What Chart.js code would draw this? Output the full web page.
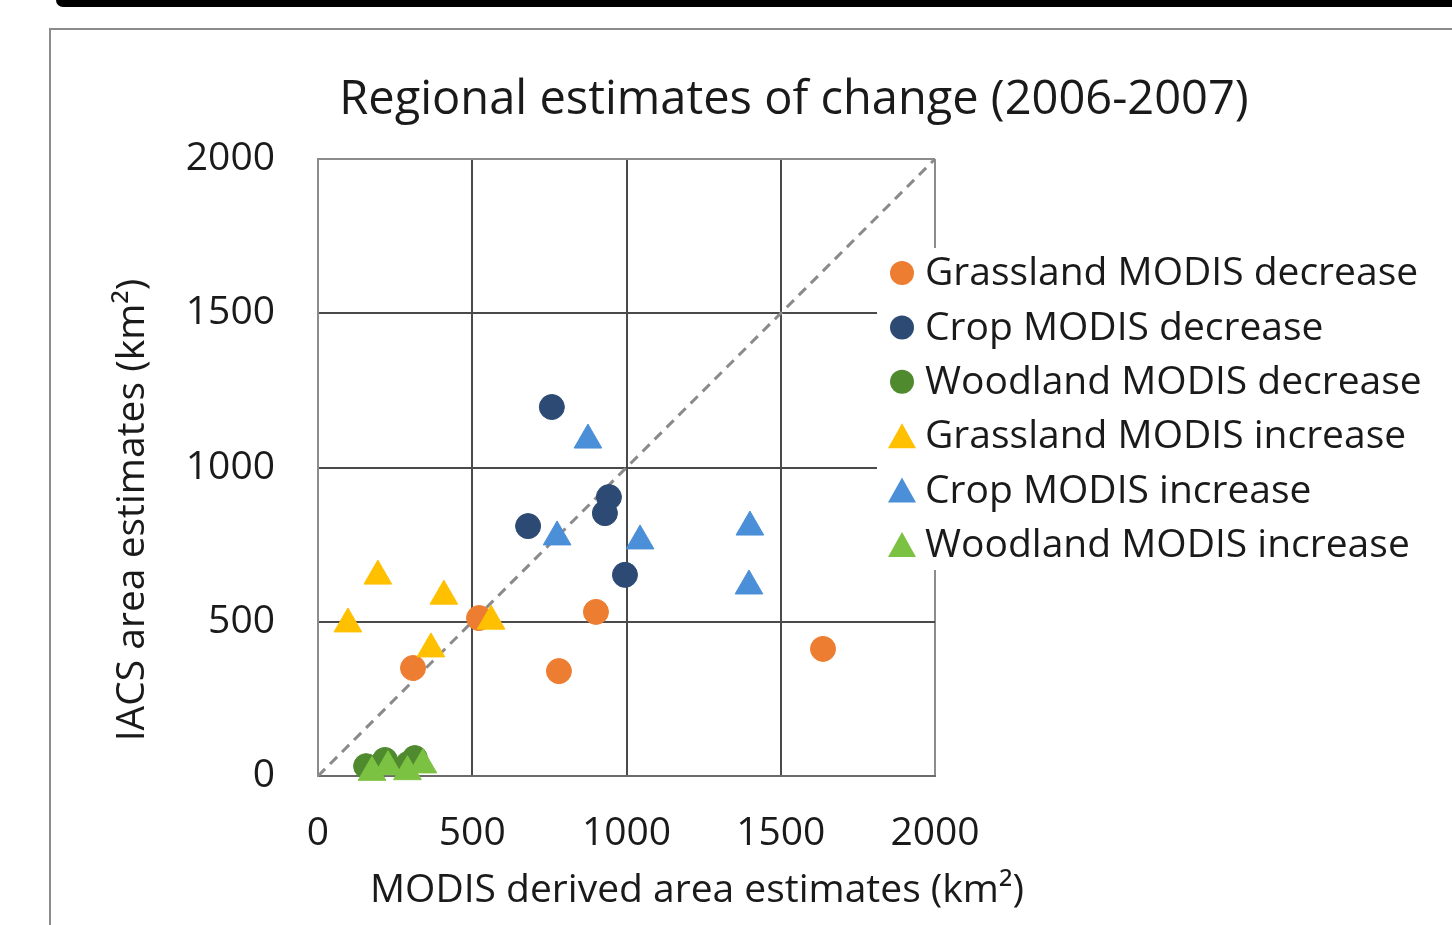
<!DOCTYPE html>
<html>
<head>
<meta charset="utf-8">
<script src="https://cdn.jsdelivr.net/npm/chart.js@4.4.1/dist/chart.umd.min.js"></script>
<style>
    html, body { margin: 0; padding: 0; background: #fff; }
    body { width: 1452px; height: 925px; position: relative; overflow: hidden; }
    #topbar { position: absolute; left: 56px; top: 0; width: 1400px; height: 7px; background: #000; border-bottom-left-radius: 10px; }
    #frame { position: absolute; left: 49px; top: 28px; width: 1410px; height: 910px; border-left: 2px solid #8c8c8c; border-top: 2px solid #8c8c8c; }
    #chart { position: absolute; left: 0; top: 0; }
</style>
</head>
<body>
<div id="topbar"></div>
<div id="frame"></div>
<canvas id="chart" width="1452" height="925"></canvas>
<script>
var chartTitle = 'Regional estimates of change (2006-2007)';
var xTitle = 'MODIS derived area estimates (km²)';
var yTitle = 'IACS area estimates (km²)';
var axisTicks = [0, 500, 1000, 1500, 2000];

var seriesNames = [
    'Grassland MODIS decrease',
    'Crop MODIS decrease',
    'Woodland MODIS decrease',
    'Grassland MODIS increase',
    'Crop MODIS increase',
    'Woodland MODIS increase'
];

// MODIS (x) and IACS (y) estimates, km2
var grassDecX = [308, 522, 901, 781, 1637];
var grassDecY = [350, 512, 532, 340, 412];
var cropDecX = [758, 943, 930, 681, 995];
var cropDecY = [1196, 904, 852, 810, 652];
var woodDecX = [156, 217, 292, 314];
var woodDecY = [32, 52, 39, 58];
var grassIncX = [97, 194, 408, 366, 561];
var grassIncY = [493, 648, 583, 412, 502];
var cropIncX = [875, 775, 1044, 1400, 1397];
var cropIncY = [1089, 775, 762, 807, 616];
var woodIncX = [175, 227, 290, 340];
var woodIncY = [12, 30, 14, 36];
var diagonal = [0, 2000];

var colors = ['#ed7d31', '#2c4a73', '#4f8a2f', '#ffc000', '#4a8fd8', '#7cc242'];
var shapes = ['circle', 'circle', 'circle', 'triangle', 'triangle', 'triangle'];

function pairs(xs, ys) {
    return xs.map(function (x, i) { return {x: x, y: ys[i]}; });
}

var seriesData = [
    pairs(grassDecX, grassDecY),
    pairs(cropDecX, cropDecY),
    pairs(woodDecX, woodDecY),
    pairs(grassIncX, grassIncY),
    pairs(cropIncX, cropIncY),
    pairs(woodIncX, woodIncY)
];

var FONT = '"Open Sans", "DejaVu Sans", sans-serif';
var TEXT = '#1a1a1a';

var datasets = [{
    type: 'line',
    data: pairs(diagonal, diagonal),
    borderColor: '#8a8a8a',
    borderWidth: 3,
    borderDash: [10, 7],
    pointRadius: 0,
    fill: false,
    order: 10
}];
seriesNames.forEach(function (name, i) {
    datasets.push({
        label: name,
        data: seriesData[i],
        pointStyle: shapes[i],
        pointRadius: shapes[i] === 'circle' ? 12.5 : 16,
        pointBackgroundColor: colors[i],
        pointBorderColor: colors[i],
        pointBorderWidth: 1,
        clip: false,
        order: 6 - i
    });
});

var overlay = {
    id: 'overlay',
    afterDraw: function (chart) {
        var ctx = chart.ctx;
        ctx.save();
        ctx.fillStyle = TEXT;
        ctx.textAlign = 'center';
        ctx.textBaseline = 'middle';

        // title
        ctx.font = '47px ' + FONT;
        ctx.fillText(chartTitle, 794, 101);

        // axis titles (Excel places them off-centre)
        ctx.font = '39px ' + FONT;
        ctx.fillText(xTitle, 697, 891);
        ctx.save();
        ctx.translate(133, 510);
        ctx.rotate(-Math.PI / 2);
        ctx.fillText(yTitle, 0, 0);
        ctx.restore();

        // legend box sits over the plot's right edge
        ctx.fillStyle = '#fff';
        ctx.fillRect(877, 248, 575, 322);
        ctx.font = '39px ' + FONT;
        ctx.textAlign = 'left';
        for (var i = 0; i < seriesNames.length; i++) {
            var y = 273 + i * 54.4;
            ctx.fillStyle = colors[i];
            ctx.beginPath();
            if (shapes[i] === 'circle') {
                ctx.arc(902, y, 12, 0, Math.PI * 2);
            } else {
                ctx.moveTo(902, y - 13);
                ctx.lineTo(916, y + 12);
                ctx.lineTo(888, y + 12);
                ctx.closePath();
            }
            ctx.fill();
            ctx.fillStyle = TEXT;
            ctx.fillText(seriesNames[i], 925, y + 1);
        }
        ctx.restore();
    }
};

function plainTick(v) { return String(v); }

new Chart(document.getElementById('chart'), {
    type: 'scatter',
    data: { datasets: datasets },
    options: {
        responsive: false,
        animation: false,
        events: [],
        layout: { padding: { left: 90, right: 517, top: 159, bottom: 9 } },
        plugins: { legend: { display: false }, tooltip: { enabled: false } },
        scales: {
            x: {
                type: 'linear',
                min: 0, max: 2000,
                afterFit: function (scale) { scale.height = 140; },
                afterBuildTicks: function (scale) {
                    scale.ticks = axisTicks.map(function (v) { return {value: v}; });
                },
                ticks: { color: TEXT, font: { family: FONT, size: 39 }, padding: 34, maxRotation: 0, callback: plainTick },
                grid: {
                    drawTicks: false,
                    lineWidth: 2,
                    color: function (c) { return c.tick && c.tick.value === 2000 ? '#8c8c8c' : '#4a4a4a'; }
                },
                border: { color: '#6a6a6a', width: 2 }
            },
            y: {
                type: 'linear',
                min: 0, max: 2000,
                afterFit: function (scale) { scale.width = 228; },
                afterBuildTicks: function (scale) {
                    scale.ticks = axisTicks.map(function (v) { return {value: v}; });
                },
                ticks: { color: TEXT, font: { family: FONT, size: 39 }, padding: 43, callback: plainTick },
                grid: {
                    drawTicks: false,
                    lineWidth: 2,
                    color: function (c) { return c.tick && c.tick.value === 2000 ? '#8c8c8c' : '#4a4a4a'; }
                },
                border: { color: '#8c8c8c', width: 2 }
            }
        }
    },
    plugins: [overlay]
});
</script>
</body>
</html>
